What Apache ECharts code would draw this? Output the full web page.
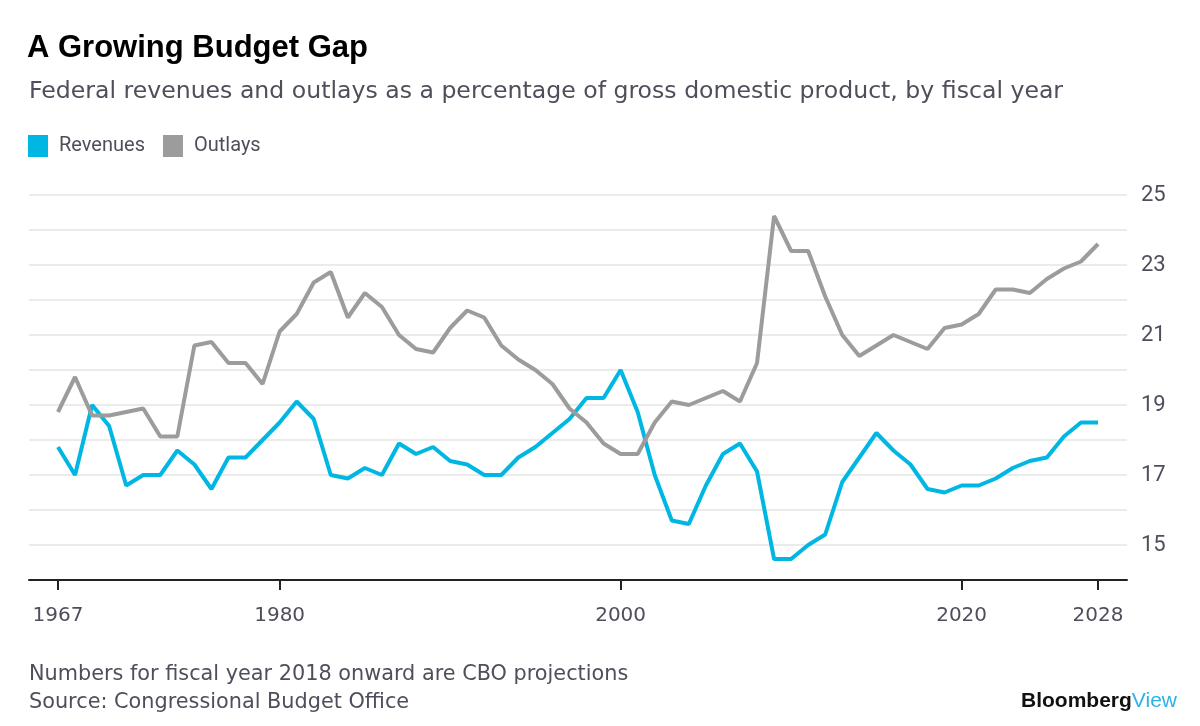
<!DOCTYPE html>
<html>
<head>
<meta charset="utf-8">
<title>A Growing Budget Gap</title>
<script src="https://cdn.jsdelivr.net/npm/echarts@6/dist/echarts.min.js"></script>
<style>
  html, body { margin: 0; padding: 0; background: #fff; }
  #chart { width: 1200px; height: 726px; }
</style>
</head>
<body>
<div id="chart"></div>
<script>
// fiscal years 1967 - 2028 (2018 onward are CBO projections)
const years = []
for (let y = 1967; y <= 2028; y++) years.push(y)

// revenues, % of GDP
const revenues = [
  17.8, 17.0, 19.0, 18.4, 16.7, 17.0, 17.0, 17.7, 17.3, 16.6,
  17.5, 17.5, 18.0, 18.5, 19.1, 18.6, 17.0, 16.9, 17.2, 17.0,
  17.9, 17.6, 17.8, 17.4, 17.3, 17.0, 17.0, 17.5, 17.8, 18.2,
  18.6, 19.2, 19.2, 20.0, 18.8, 17.0, 15.7, 15.6, 16.7, 17.6,
  17.9, 17.1, 14.6, 14.6, 15.0, 15.3, 16.8, 17.5, 18.2, 17.7,
  17.3, 16.6, 16.5, 16.7, 16.7, 16.9, 17.2, 17.4, 17.5, 18.1,
  18.5, 18.5
]

// outlays, % of GDP
const outlays = [
  18.8, 19.8, 18.7, 18.7, 18.8, 18.9, 18.1, 18.1, 20.7, 20.8,
  20.2, 20.2, 19.6, 21.1, 21.6, 22.5, 22.8, 21.5, 22.2, 21.8,
  21.0, 20.6, 20.5, 21.2, 21.7, 21.5, 20.7, 20.3, 20.0, 19.6,
  18.9, 18.5, 17.9, 17.6, 17.6, 18.5, 19.1, 19.0, 19.2, 19.4,
  19.1, 20.2, 24.4, 23.4, 23.4, 22.1, 21.0, 20.4, 20.7, 21.0,
  20.8, 20.6, 21.2, 21.3, 21.6, 22.3, 22.3, 22.2, 22.6, 22.9,
  23.1, 23.6
]

// labelled ticks
const yearTicks = [1967, 1980, 2000, 2020, 2028]

const BLUE = '#00b7e3'
const GRAY = '#9c9c9c'
const TEXT = '#4f4f5c'
const FONT = 'Roboto'
const WIDE = 'DejaVu Sans'

const toPairs = (vals) => years.map((y, i) => [y, vals[i]])

const chart = echarts.init(document.getElementById('chart'))

const option = {
  backgroundColor: '#fff',
  animation: false,
  title: [{
    text: 'A Growing Budget Gap',
    left: 22,
    top: 28,
    textStyle: { fontFamily: 'Liberation Sans', fontWeight: 'bold', fontSize: 31, color: '#000' }
  }, {
    text: 'Federal revenues and outlays as a percentage of gross domestic product, by fiscal year',
    left: 24,
    top: 75,
    textStyle: { fontFamily: WIDE, fontWeight: 'normal', fontSize: 23.6, color: TEXT }
  }, {
    text: 'Numbers for fiscal year 2018 onward are CBO projections\nSource: Congressional Budget Office',
    left: 24,
    top: 656,
    textStyle: { fontFamily: WIDE, fontWeight: 'normal', fontSize: 20.8, lineHeight: 28, color: TEXT }
  }, {
    text: '{b|Bloomberg}{v|View}',
    right: 18,
    top: 686,
    textStyle: {
      rich: {
        b: { fontFamily: 'Liberation Sans', fontWeight: 'bold', fontSize: 21, color: '#111' },
        v: { fontFamily: 'Liberation Sans', fontWeight: 'normal', fontSize: 21, color: '#2bb3e6' }
      }
    }
  }],
  legend: {
    left: 23,
    top: 130,
    icon: 'rect',
    itemWidth: 20,
    itemHeight: 22,
    itemGap: 18,
    textStyle: { fontFamily: FONT, fontSize: 20, color: TEXT, padding: [0, 0, 0, 6] },
    data: ['Revenues', 'Outlays']
  },
  grid: {
    left: 29,
    right: 73,
    top: 195,
    bottom: 146,
    containLabel: false
  },
  xAxis: {
    type: 'value',
    min: 1965.3,
    max: 2029.7,
    splitLine: { show: false },
    axisLine: { show: true, lineStyle: { color: '#222', width: 2 } },
    axisTick: {
      show: true,
      length: 10,
      customValues: yearTicks,
      lineStyle: { color: '#222', width: 2 }
    },
    axisLabel: {
      customValues: yearTicks,
      margin: 26,
      fontFamily: WIDE,
      fontSize: 20,
      color: TEXT,
      formatter: (v) => String(v)
    }
  },
  yAxis: {
    type: 'value',
    position: 'right',
    min: 14,
    max: 25,
    interval: 1,
    axisLine: { show: false },
    axisTick: { show: false },
    splitLine: { show: true, lineStyle: { color: '#ebebeb', width: 2 } },
    axisLabel: {
      margin: 14,
      fontFamily: FONT,
      fontSize: 22,
      color: TEXT,
      formatter: (v) => (v % 2 === 1 ? String(v) : '')
    }
  },
  series: [{
    name: 'Revenues',
    type: 'line',
    data: toPairs(revenues),
    showSymbol: false,
    color: BLUE,
    lineStyle: { width: 4, color: BLUE }
  }, {
    name: 'Outlays',
    type: 'line',
    data: toPairs(outlays),
    showSymbol: false,
    color: GRAY,
    lineStyle: { width: 4, color: GRAY }
  }]
}

chart.setOption(option)
</script>
</body>
</html>
